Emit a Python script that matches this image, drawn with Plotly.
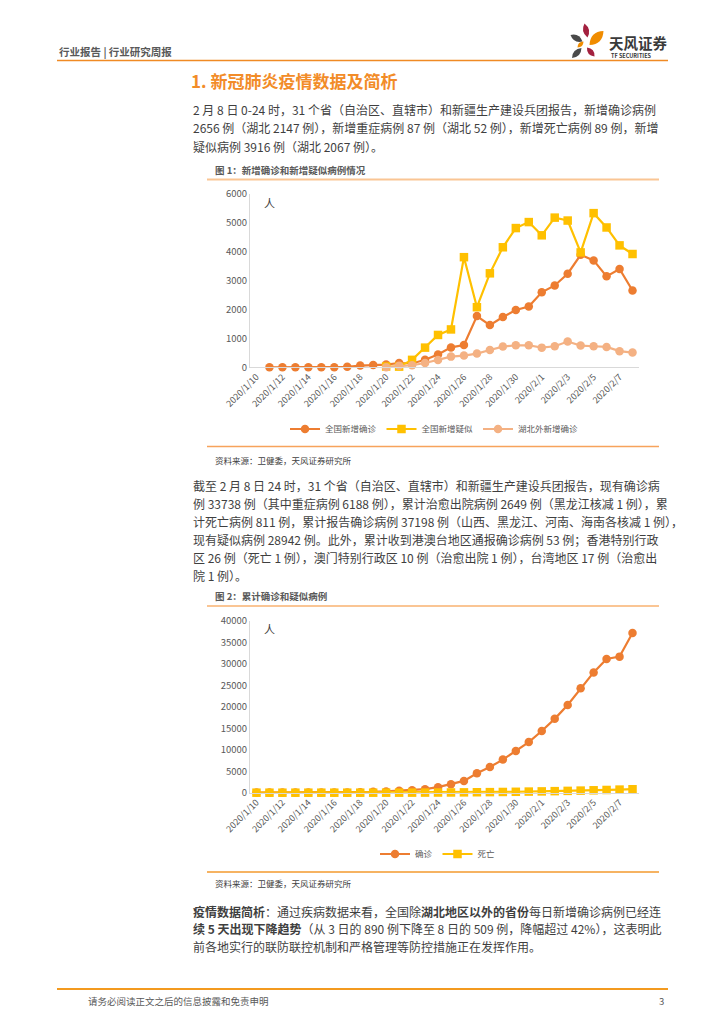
import plotly.graph_objects as go

W, H = 724, 1024

# ---------------- data ----------------
dates = ["2020/1/10", "2020/1/11", "2020/1/12", "2020/1/13", "2020/1/14", "2020/1/15",
         "2020/1/16", "2020/1/17", "2020/1/18", "2020/1/19", "2020/1/20", "2020/1/21",
         "2020/1/22", "2020/1/23", "2020/1/24", "2020/1/25", "2020/1/26", "2020/1/27",
         "2020/1/28", "2020/1/29", "2020/1/30", "2020/1/31", "2020/2/1", "2020/2/2",
         "2020/2/3", "2020/2/4", "2020/2/5", "2020/2/6", "2020/2/7", "2020/2/8"]
tick_dates = ["2020/1/10", "2020/1/12", "2020/1/14", "2020/1/16", "2020/1/18", "2020/1/20",
              "2020/1/22", "2020/1/24", "2020/1/26", "2020/1/28", "2020/1/30", "2020/2/1",
              "2020/2/3", "2020/2/5", "2020/2/7"]

new_confirmed = [None, 0, 0, 0, 0, 0, 4, 17, 59, 77, 93, 149, 131, 259, 444, 688, 769, 1771,
                 1459, 1737, 1981, 2102, 2590, 2829, 3235, 3887, 3694, 3143, 3399, 2656]
new_suspected = [None, None, None, None, None, None, None, None, None, None, 27, 23, 257, 680,
                 1118, 1309, 3806, 2077, 3248, 4148, 4812, 5019, 4562, 5173, 5072, 3971, 5328,
                 4833, 4214, 3916]
new_outside_hubei = [None, None, None, None, None, None, None, None, None, None, 5, 50, 70, 150,
                     254, 369, 404, 473, 600, 715, 761, 761, 680, 727, 890, 750, 727, 704, 558, 509]

cum_confirmed = [41, 41, 41, 41, 41, 41, 45, 62, 121, 198, 291, 440, 571, 830, 1287, 1975, 2744,
                 4515, 5974, 7711, 9692, 11791, 14380, 17205, 20438, 24324, 28018, 31161, 31700, 37198]
cum_deaths = [1, 1, 1, 1, 1, 2, 2, 2, 3, 3, 6, 9, 17, 25, 41, 56, 80, 106, 132, 170, 213, 259,
              304, 361, 425, 490, 563, 636, 722, 811]

names1 = ["全国新增确诊", "全国新增疑似", "湖北外新增确诊"]
names2 = ["确诊", "死亡"]

C_OR = "#ED7D31"
C_YE = "#FFC000"
C_PK = "#F4B183"
FONT = "Noto Sans CJK SC, Noto Sans, sans-serif"


def px(x):
    return x / W


def py(y):
    return 1 - y / H


fig = go.Figure()


def line_trace(y, name, color, symbol, xa, ya, legend):
    return go.Scatter(
        x=dates, y=y, name=name, mode="lines+markers",
        line=dict(color=color, width=2.2),
        marker=dict(symbol=symbol, size=8.5, color=color),
        xaxis=xa, yaxis=ya, legend=legend, cliponaxis=False, connectgaps=False)


fig.add_trace(line_trace(new_confirmed, names1[0], C_OR, "circle", "x", "y", "legend"))
fig.add_trace(line_trace(new_suspected, names1[1], C_YE, "square", "x", "y", "legend"))
fig.add_trace(line_trace(new_outside_hubei, names1[2], C_PK, "circle", "x", "y", "legend"))
fig.add_trace(line_trace(cum_confirmed, names2[0], C_OR, "circle", "x2", "y2", "legend2"))
fig.add_trace(line_trace(cum_deaths, names2[1], C_YE, "square", "x2", "y2", "legend2"))

axis_common_x = dict(type="category", tickmode="array", tickvals=tick_dates, ticktext=tick_dates,
                     tickangle=-45, tickfont=dict(size=9, color="#595959", family=FONT),
                     showline=True, linecolor="#D9D9D9", linewidth=1, showgrid=False,
                     ticks="", zeroline=False, range=[-0.5, 29.5], fixedrange=True,
                     automargin=False)
axis_common_y = dict(showline=True, linecolor="#D9D9D9", linewidth=1, showgrid=False,
                     ticks="", zeroline=False, tickfont=dict(size=9.5, color="#595959", family=FONT),
                     fixedrange=True, automargin=False, tickformat="d")

x1d = [px(250), px(639)]
fig.update_layout(
    xaxis=dict(domain=x1d, anchor="y", **axis_common_x),
    yaxis=dict(domain=[py(367.3), py(193.7)], anchor="x", range=[0, 6000], dtick=1000,
               **axis_common_y),
    xaxis2=dict(domain=x1d, anchor="y2", **axis_common_x),
    yaxis2=dict(domain=[py(792.7), py(621)], anchor="x2", range=[0, 40000], dtick=5000,
                **axis_common_y),
)

legend_common = dict(orientation="h", xanchor="left", yanchor="middle",
                     font=dict(size=8.5, color="#595959", family=FONT),
                     bgcolor="rgba(0,0,0,0)", borderwidth=0, itemwidth=30,
                     tracegroupgap=0, itemclick=False, itemdoubleclick=False)
fig.update_layout(
    legend=dict(x=px(285), y=py(429), **legend_common),
    legend2=dict(x=px(375), y=py(854), **legend_common),
)

annotations = []


def text(x, y, s, size=12, color="#404040", anchor="left", yanchor="middle"):
    annotations.append(dict(x=px(x), y=py(y), xref="paper", yref="paper", text=s,
                            showarrow=False, xanchor=anchor, yanchor=yanchor,
                            font=dict(size=size, color=color, family=FONT)))


# header
text(57, 51, "<b>行业报告 | 行业研究周报</b>", size=10.5, color="#595959")
text(607, 42, "<b>天风证券</b>", size=14.5, color="#3A3A3A")
text(609, 56, "<b>TF SECURITIES</b>", size=5.5, color="#3A3A3A")

# section title
text(189, 80, "<b>1. 新冠肺炎疫情数据及简析</b>", size=17, color="#F28C28")

body_color = "#3F3F3F"
p1 = ["2 月 8 日 0-24 时，31 个省（自治区、直辖市）和新疆生产建设兵团报告，新增确诊病例",
      "2656 例（湖北 2147 例），新增重症病例 87 例（湖北 52 例），新增死亡病例 89 例，新增",
      "疑似病例 3916 例（湖北 2067 例）。"]
for i, s in enumerate(p1):
    text(191, 109 + i * 18.5, s, size=12, color=body_color)

# figure 1 title
text(213, 170, "<b>图 1：新增确诊和新增疑似病例情况</b>", size=9.5, color="#595959")
text(262, 203, "人", size=11, color="#404040")
text(213, 460, "资料来源：卫健委，天风证券研究所", size=8.5, color="#404040")

p2 = ["截至 2 月 8 日 24 时，31 个省（自治区、直辖市）和新疆生产建设兵团报告，现有确诊病",
      "例 33738 例（其中重症病例 6188 例），累计治愈出院病例 2649 例（黑龙江核减 1 例），累",
      "计死亡病例 811 例，累计报告确诊病例 37198 例（山西、黑龙江、河南、海南各核减 1 例），",
      "现有疑似病例 28942 例。此外，累计收到港澳台地区通报确诊病例 53 例；香港特别行政",
      "区 26 例（死亡 1 例），澳门特别行政区 10 例（治愈出院 1 例），台湾地区 17 例（治愈出",
      "院 1 例）。"]
for i, s in enumerate(p2):
    text(191, 485 + i * 18.1, s, size=12, color=body_color)

# figure 2 title
text(213, 596, "<b>图 2：累计确诊和疑似病例</b>", size=9.5, color="#595959")
text(262, 629, "人", size=11, color="#404040")
text(213, 883, "资料来源：卫健委，天风证券研究所", size=8.5, color="#404040")

p3 = ["<b>疫情数据简析</b>：通过疾病数据来看，全国除<b>湖北地区以外的省份</b>每日新增确诊病例已经连",
      "<b>续 5 天出现下降趋势</b>（从 3 日的 890 例下降至 8 日的 509 例，降幅超过 42%），这表明此",
      "前各地实行的联防联控机制和严格管理等防控措施正在发挥作用。"]
for i, s in enumerate(p3):
    text(191, 911 + i * 17.6, s, size=12, color=body_color)

# footer
text(86, 1001, "请务必阅读正文之后的信息披露和免责申明", size=9.5, color="#595959")
text(666, 1001, "3", size=9.5, color="#595959", anchor="right")

shapes = []


def hline(x0, x1, y, color, width):
    shapes.append(dict(type="line", xref="paper", yref="paper", x0=px(x0), x1=px(x1),
                       y0=py(y), y1=py(y), line=dict(color=color, width=width)))


hline(57, 668, 60.5, "#F08A24", 1.6)
hline(207, 659, 179.5, "#FAC594", 2)
hline(207, 659, 446.5, "#F7A35C", 1.5)
hline(207, 659, 606, "#FAC594", 2)
hline(207, 659, 872, "#F39A2E", 1.5)
hline(57, 668, 989, "#F39A1F", 2)


def leaf(ax, ay, bx, by, w, color):
    mx, my = (ax + bx) / 2, (ay + by) / 2
    dx, dy = bx - ax, by - ay
    L = (dx * dx + dy * dy) ** 0.5
    nx, ny = -dy / L, dx / L
    c1 = (mx + nx * w, my + ny * w)
    c2 = (mx - nx * w, my - ny * w)
    path = "M {:.5f},{:.5f} Q {:.5f},{:.5f} {:.5f},{:.5f} Q {:.5f},{:.5f} {:.5f},{:.5f} Z".format(
        px(ax), py(ay), px(c1[0]), py(c1[1]), px(bx), py(by), px(c2[0]), py(c2[1]), px(ax), py(ay))
    shapes.append(dict(type="path", xref="paper", yref="paper", path=path,
                       fillcolor=color, line=dict(width=0)))


leaf(584.5, 23.5, 587.5, 37.5, 6, "#A3213F")
leaf(570.5, 35, 582.5, 41.5, 6, "#4A4A4A")
leaf(589.5, 45, 603.5, 31, 9, "#F08C00")
leaf(577.5, 47.5, 583.5, 41.5, 4, "#F08C00")
leaf(587, 47.5, 594.5, 56.5, 5.5, "#A3213F")
leaf(572, 58, 581.5, 48, 6, "#4A4A4A")

fig.update_layout(
    width=W, height=H, autosize=False,
    margin=dict(l=0, r=0, t=0, b=0, autoexpand=False),
    paper_bgcolor="white", plot_bgcolor="white",
    annotations=annotations, shapes=shapes,
    font=dict(family=FONT),
)

fig.write_html("out.html", config={"displayModeBar": False, "staticPlot": True},
               post_script="document.body.style.margin='0';document.body.style.overflow='hidden';")
